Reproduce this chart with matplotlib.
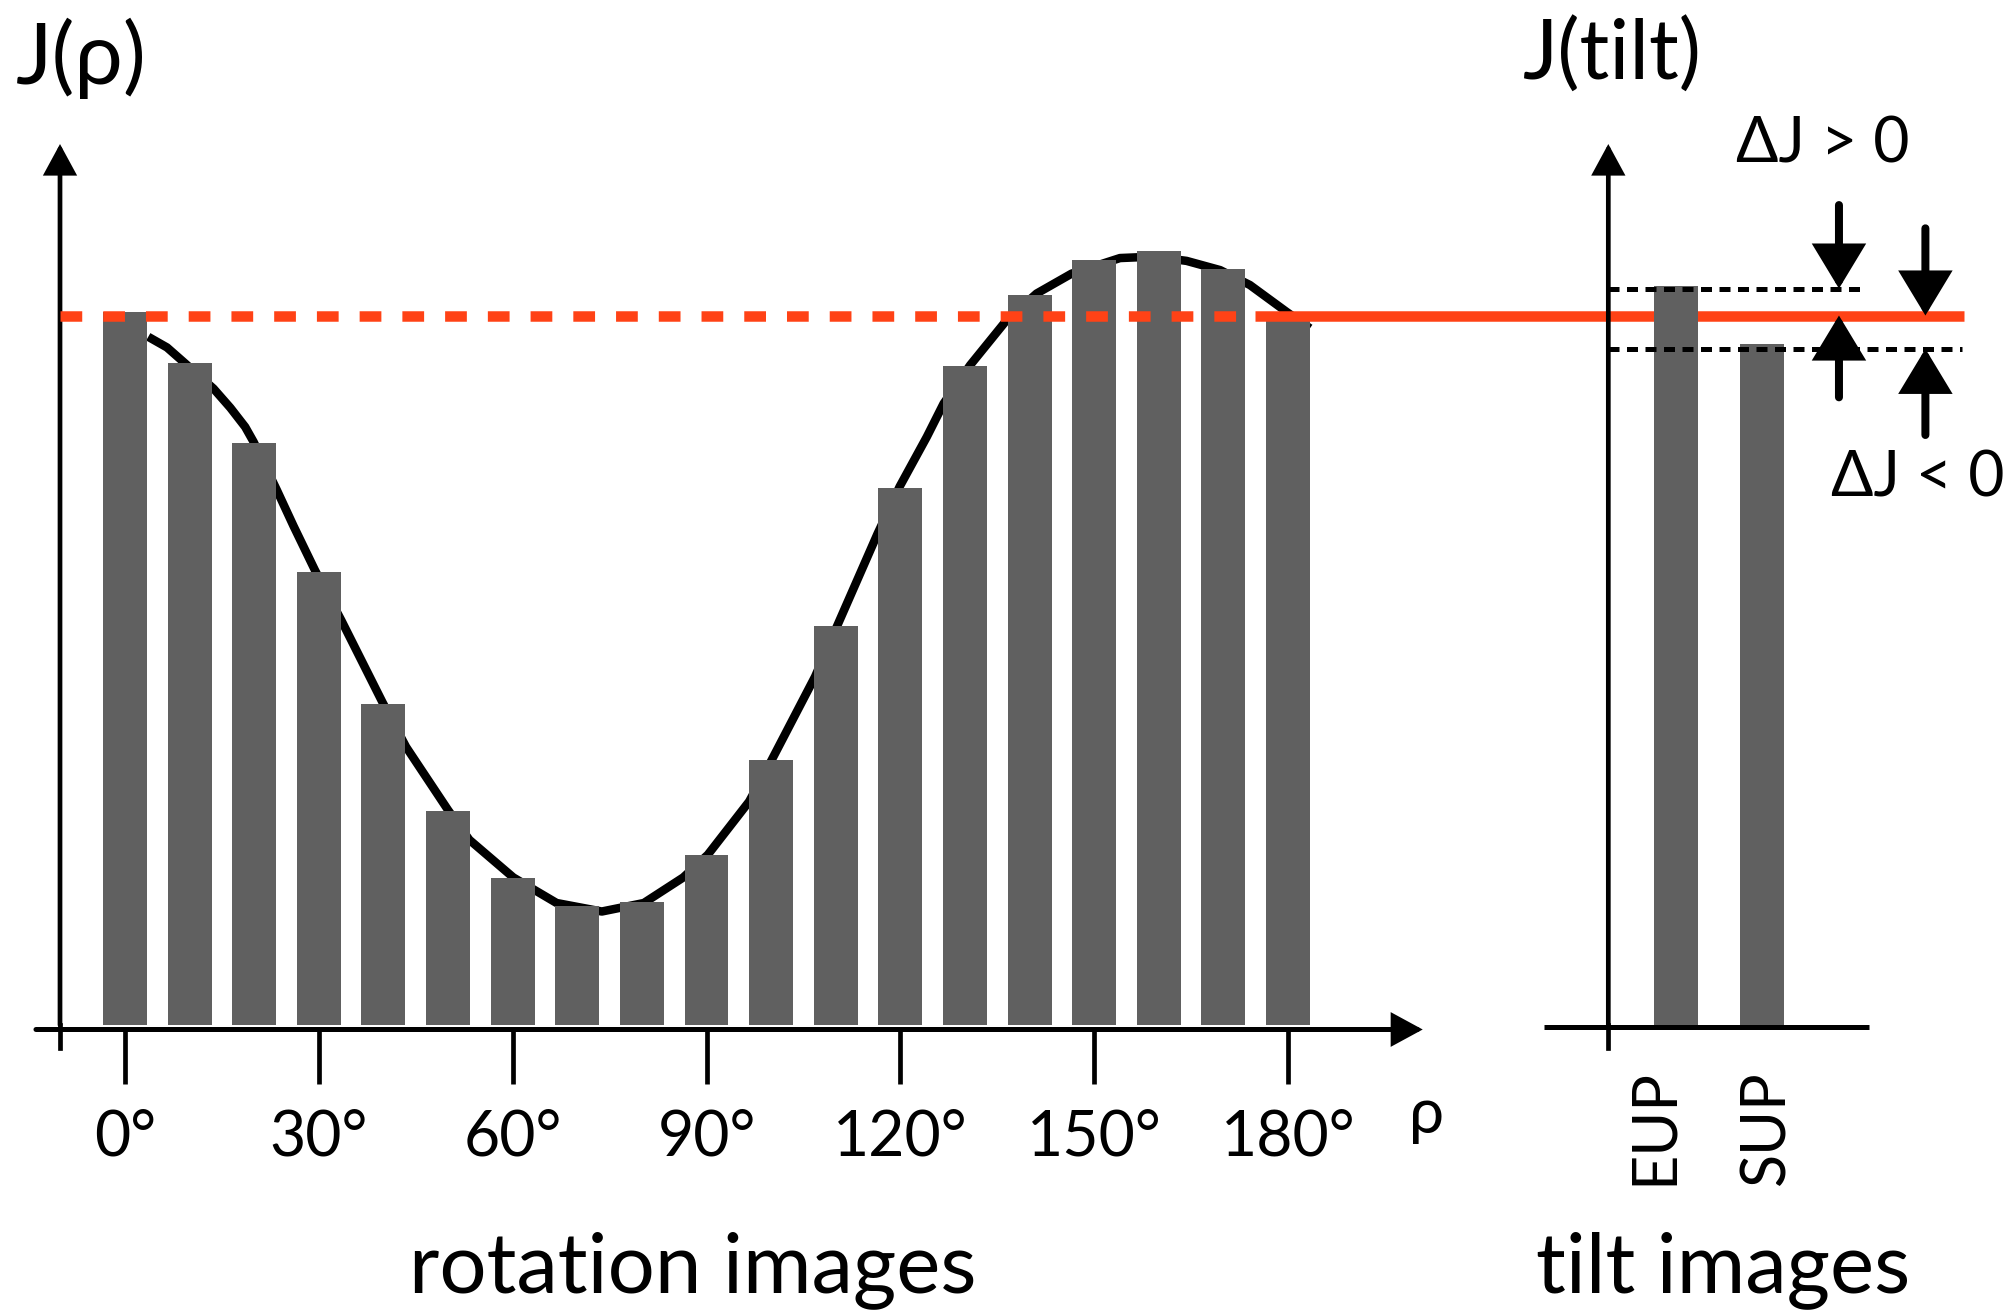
import matplotlib
matplotlib.use("Agg")
import matplotlib.pyplot as plt

# ---------------- data ----------------
rho_deg = [0, 10, 20, 30, 40, 50, 60, 70, 80, 90, 100, 110, 120, 130, 140, 150, 160, 170, 180]
j_rho = [1.005, 0.933, 0.820, 0.638, 0.453, 0.301, 0.207, 0.168, 0.173, 0.240,
         0.374, 0.562, 0.757, 0.929, 1.029, 1.078, 1.091, 1.066, 1.005]

fit_deg = [3.6, 6.5, 9.0, 13.7, 16.3, 18.6, 19.9, 23.5, 26.1, 29.4, 33.5, 39.9, 43.5,
           50.0, 53.3, 60.1, 66.8, 73.8, 80.3, 86.4, 90.2, 96.6, 100.0, 106.8, 110.1,
           116.5, 119.9, 124.1, 126.7, 130.8, 136.5, 141.1, 146.5, 154.0, 159.2, 164.3,
           169.5, 174.1, 179.8, 183.4]
fit_j = [0.970, 0.955, 0.935, 0.897, 0.870, 0.843, 0.822, 0.754, 0.703, 0.641, 0.570,
         0.454, 0.392, 0.303, 0.261, 0.208, 0.172, 0.160, 0.172, 0.208, 0.240, 0.315,
         0.372, 0.491, 0.560, 0.693, 0.759, 0.829, 0.876, 0.930, 0.994, 1.031, 1.059,
         1.081, 1.083, 1.077, 1.064, 1.043, 1.005, 0.982]

j_ref = 1.0
tick_deg = [0, 30, 60, 90, 120, 150, 180]
tick_labels = ["0°", "30°", "60°", "90°", "120°", "150°", "180°"]

tilt_labels = ["EUP", "SUP"]
j_tilt = [1.042, 0.960]
j_upper = 1.038
j_lower = 0.953

# ---------------- style ----------------
plt.rcParams["font.family"] = ["Lato", "Noto Sans", "DejaVu Sans"]
BAR = "#606060"
RED = "#FF4216"
PX = 72.0 / 100.0  # points per pixel at dpi 100

fig = plt.figure(figsize=(20.13, 13.16), dpi=100)
ax = fig.add_axes([0, 0, 1, 1])
ax.set_xlim(-19.347, 292.21)
ax.set_ylim(-0.4101, 1.4447)
ax.axis("off")

ax2 = fig.add_axes([0, 0, 1, 1])
ax2.set_xlim(-19.488, 3.9186)
ax2.set_ylim(-0.4101, 1.4447)
ax2.axis("off")
ax2.patch.set_visible(False)


def axis_arrow(a, start, tip, lw_px, hl, hw, ms=10):
    a.annotate("", xy=tip, xytext=start,
               arrowprops=dict(arrowstyle=f"-|>,head_length={hl},head_width={hw}",
                               lw=lw_px * PX, color="black", shrinkA=0, shrinkB=0,
                               mutation_scale=ms, joinstyle="miter"),
               annotation_clip=False)


# ---------------- left panel: rotation images ----------------
ax.plot(fit_deg, fit_j, color="black", lw=8.5 * PX, zorder=2,
        solid_capstyle="butt", solid_joinstyle="round")
ax.bar(rho_deg, j_rho, width=6.8, color=BAR, zorder=3)

# reference level: dashed over the rotation panel, solid to the right
ax.plot([-10.06, 174.9], [j_ref, j_ref], color=RED, lw=10.5 * PX,
        linestyle=(0, (2.07, 2.0)), dash_capstyle="butt", zorder=5)
ax.plot([174.9, 284.6], [j_ref, j_ref], color=RED, lw=10.5 * PX,
        solid_capstyle="butt", zorder=5)

# axes with arrows
axis_arrow(ax, (-13.78, -0.0063), (200.85, -0.0063), 5, 1.75, 0.95)
ax.plot([-10.06, -10.06], [-0.0328, 0.0], color="black", lw=4.7 * PX, zorder=4)
axis_arrow(ax, (-10.06, 0.0), (-10.06, 1.2417), 4.7, 1.75, 0.95)

ax.vlines(tick_deg, -0.007, -0.0825, color="black", lw=4.7 * PX)
for d, lab in zip(tick_deg, tick_labels):
    ax.text(d, -0.1832, lab, ha="center", va="baseline", fontsize=45)
ax.text(201.5, -0.1522, "ρ", ha="center", va="baseline", fontsize=45)

ax.text(-16.96, 1.3263, "J(ρ)", ha="left", va="baseline", fontsize=62)
ax.text(87.83, -0.3763, "rotation images", ha="center", va="baseline", fontsize=60)

# ---------------- right panel: tilt images ----------------
xpos = list(range(len(tilt_labels)))
ax2.bar(xpos, j_tilt, width=0.506, color=BAR, zorder=3)

ax2.plot([-0.787, 2.217], [j_upper, j_upper], color="black", lw=5 * PX,
         linestyle=(0, (2.2, 1.5)), dash_capstyle="butt", zorder=6)
ax2.plot([-0.787, 3.322], [j_lower, j_lower], color="black", lw=5 * PX,
         linestyle=(0, (2.2, 1.5)), dash_capstyle="butt", zorder=6)

ax2.plot([-1.535, 2.248], [-0.0024, -0.0024], color="black", lw=5 * PX,
         solid_capstyle="butt", zorder=4)
ax2.plot([-0.787, -0.787], [-0.0328, 0.0], color="black", lw=4.7 * PX, zorder=4)
axis_arrow(ax2, (-0.787, 0.0), (-0.787, 1.2417), 4.7, 1.75, 0.95)

label_dx = [-0.05, 0.259]
for x, lab, dx in zip(xpos, tilt_labels, label_dx):
    ax2.text(x + dx, -0.2255, lab, rotation=90, rotation_mode="anchor",
             ha="left", va="baseline", fontsize=44)

# delta arrows
axis_arrow(ax2, (1.895, 1.1557), (1.895, j_upper), 8, 2.4, 1.45)
axis_arrow(ax2, (1.895, 0.8847), (1.895, j_ref), 8, 2.4, 1.45)
axis_arrow(ax2, (2.900, 1.1229), (2.900, j_ref), 8, 2.4, 1.45)
axis_arrow(ax2, (2.900, 0.8316), (2.900, j_lower), 8, 2.4, 1.45)

ax2.text(1.709, 1.2154, "ΔJ > 0", ha="center", va="baseline", fontsize=45)
ax2.text(2.814, 0.7456, "ΔJ < 0", ha="center", va="baseline", fontsize=45)

ax2.text(-1.779, 1.3319, "J(tilt)", ha="left", va="baseline", fontsize=60)
ax2.text(0.547, -0.3759, "tilt images", ha="center", va="baseline", fontsize=60)

fig.savefig("out.png", dpi=100)
